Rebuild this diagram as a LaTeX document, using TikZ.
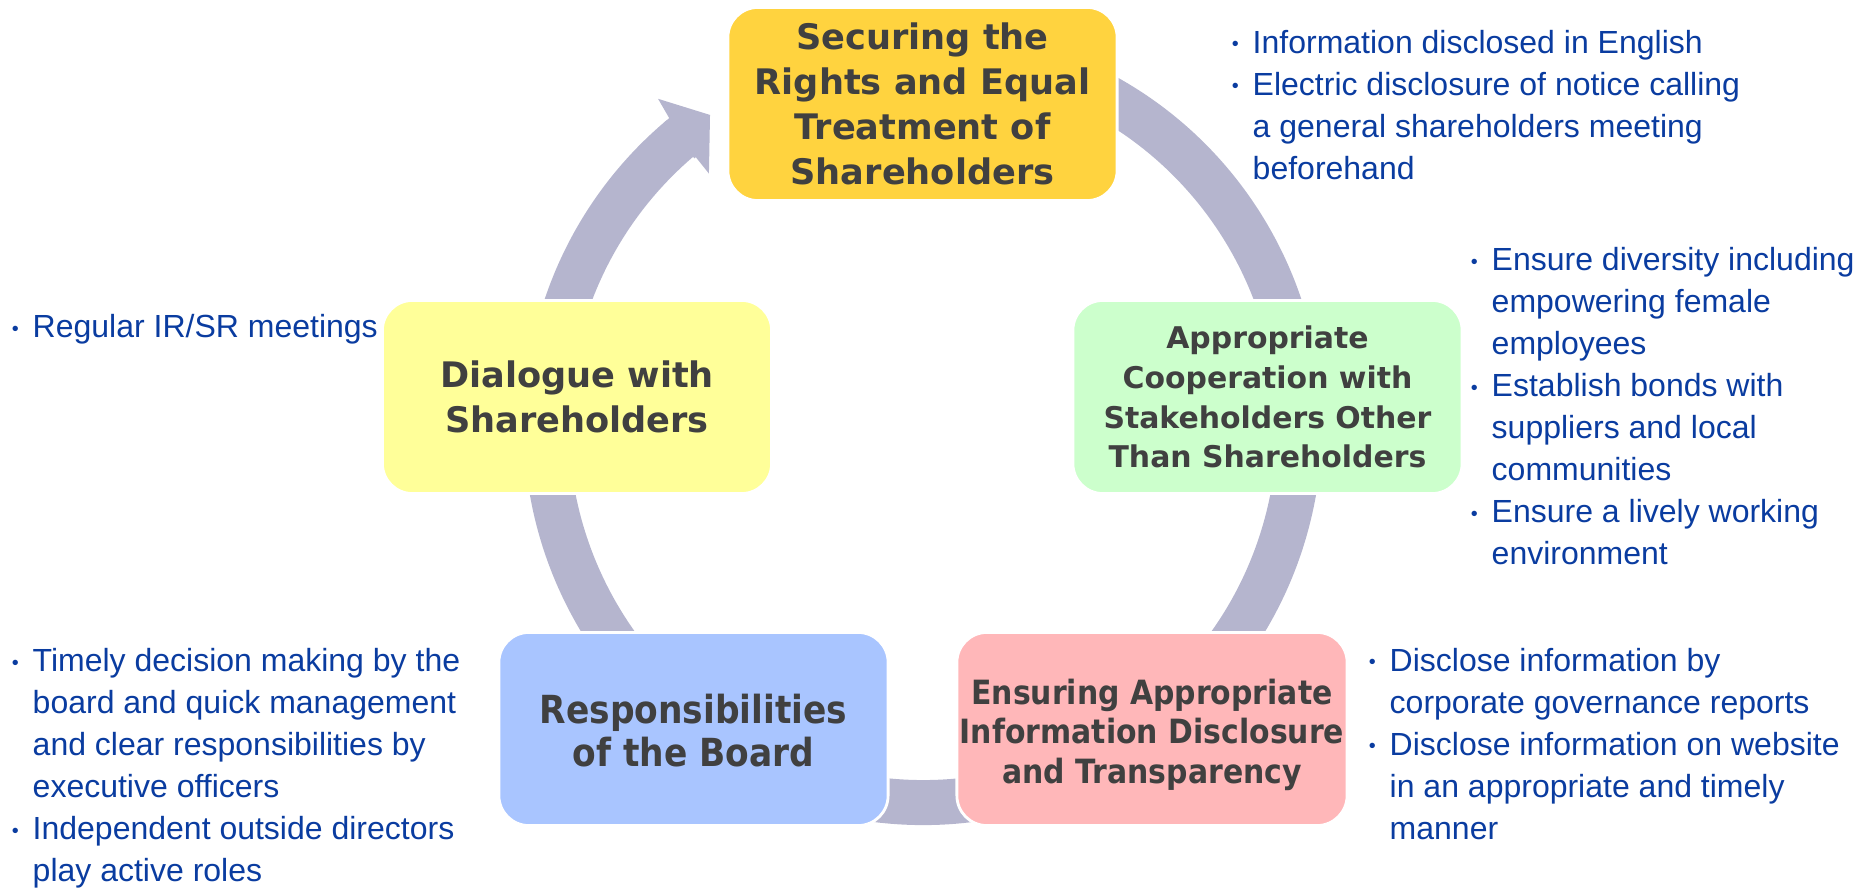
\documentclass[tikz,border=0pt]{standalone}
\usepackage{fontspec}
\setmainfont{Liberation Sans}
\newfontfamily\boxfont{DejaVu Sans}
\usepackage{tikz}
\usetikzlibrary{positioning, calc}
\definecolor{ringcol}{HTML}{B5B5CE}
\definecolor{topcol}{HTML}{FFD33F}
\definecolor{greencol}{HTML}{CCFFCC}
\definecolor{leftcol}{HTML}{FFFF99}
\definecolor{bluecol}{HTML}{A9C5FF}
\definecolor{pinkcol}{HTML}{FFB7B9}
\definecolor{boxtext}{HTML}{404040}
\definecolor{notecol}{HTML}{0A3CA0}
\newcommand{\bl}{\makebox[0.3cm][r]{\raisebox{0.08em}{\scalebox{0.62}{\textbullet}}\hspace{0.14cm}}}
\newcommand{\ind}{\hspace*{0.3cm}}
\tikzset{
  ring/.style={color=ringcol, line width=0.45cm},
  principle/.style={rounded corners=0.3cm, draw=white, line width=0.8pt,
    minimum width=3.89cm, minimum height=1.93cm, align=center, text=boxtext,
    font=\boxfont\bfseries\fontsize{10}{12.8}\selectfont},
  note/.style={anchor=base west, align=left, inner sep=0pt, text=notecol,
    font=\fontsize{9.1}{11.95}\selectfont},
}

\begin{document}
\begin{tikzpicture}[x=0.01cm,y=0.01cm]
\useasboundingbox (0,0) rectangle (1862,888);
% ring of arrows round the five principles
\begin{scope}[shift={(923,462)}]
\draw[ring] (75:376.5) arc[start angle=75, end angle=-230, radius=376.5];
\fill[ringcol] (130.5:399) -- (129.5:399) -- (129:421) -- (124.4:377) -- (130.3:331) -- (130.2:352) -- (130.5:352) -- cycle;
\end{scope}
% the principles
\node[principle, fill=topcol] (rights) at (922.5,784) {Securing the\\Rights and Equal\\Treatment of\\Shareholders};
\node[principle, fill=greencol, font=\boxfont\bfseries\fontsize{8.5}{11.3}\selectfont] (cooperation) at (1267.5,491) {Appropriate\\Cooperation with\\Stakeholders Other\\Than Shareholders};
\node[principle, fill=pinkcol, inner xsep=0pt, minimum width=3.9cm, font=\boxfont\bfseries\fontsize{9.5}{11.3}\selectfont] (disclosure) at (1152,159) {\raisebox{-0.07cm}[\height][\depth]{\scalebox{0.895}[1]{\begin{tabular}{@{}c@{}}Ensuring Appropriate\\Information Disclosure\\and Transparency\end{tabular}}}};
\node[principle, fill=bluecol, font=\boxfont\bfseries\fontsize{11}{12.2}\selectfont] (board) at (693.5,159) {\raisebox{-0.07cm}[\height][\depth]{\scalebox{0.89}[1]{\begin{tabular}{@{}c@{}}Responsibilities\\of the Board\end{tabular}}}};
\node[principle, fill=leftcol] (dialogue) at (577,491) {Dialogue with\\Shareholders};
% measures next to each principle (anchored at the last line)
\node[note] (rightsnote) at (1222,708.5) {\bl Information disclosed in English\\\bl Electric disclosure of notice calling\\\ind a general shareholders meeting\\\ind beforehand};
\node[note] (coopnote) at (1461,323) {\bl Ensure diversity including\\\ind empowering female\\\ind employees\\\bl Establish bonds with\\\ind suppliers and local\\\ind communities\\\bl Ensure a lively working\\\ind environment};
\node[note] (disclnote) at (1359,48.4) {\bl Disclose information by\\\ind corporate governance reports\\\bl Disclose information on website\\\ind in an appropriate and timely\\\ind manner};
\node[note] (boardnote) at (2,6.2) {\bl Timely decision making by the\\\ind board and quick management\\\ind and clear responsibilities by\\\ind executive officers\\\bl Independent outside directors\\\ind play active roles};
\node[note] (dialnote) at (2,550) {\bl Regular IR/SR meetings};
\end{tikzpicture}
\end{document}
